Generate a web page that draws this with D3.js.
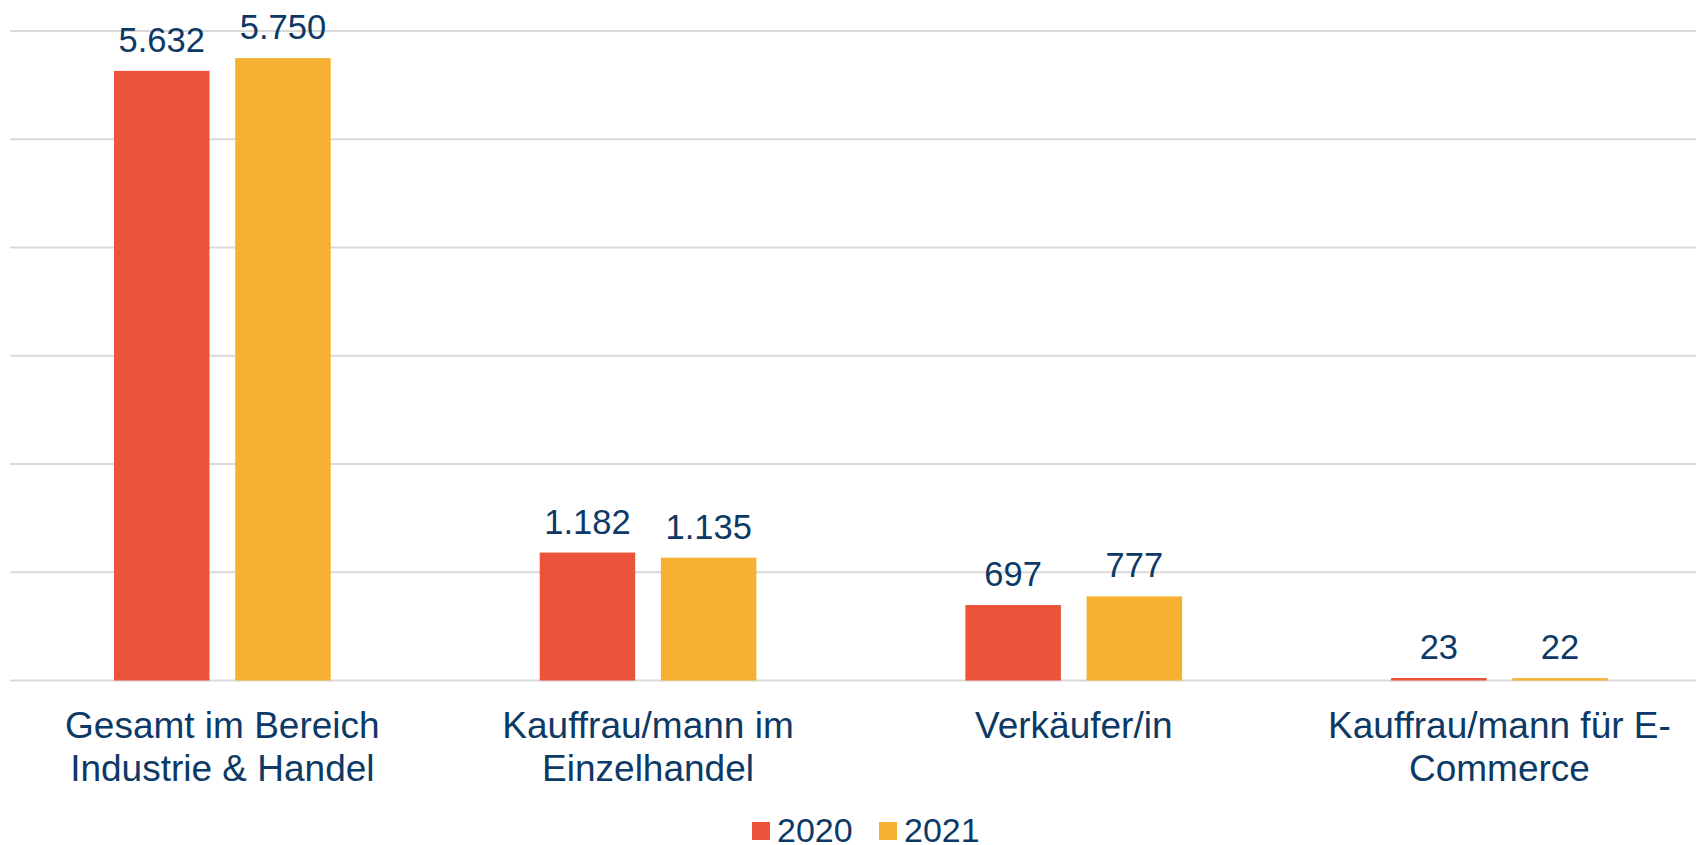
<!DOCTYPE html>
<html>
<head>
<meta charset="utf-8">
<script src="https://cdn.jsdelivr.net/npm/d3@7"></script>
<style>
  html, body { margin: 0; padding: 0; background: #ffffff; }
  svg { display: block; }
  text { font-family: "Liberation Sans", Arial, sans-serif; }
</style>
</head>
<body>
<svg id="chart" width="1696" height="845"></svg>
<script>
// ---- data ----
const categories = [
  "Gesamt im Bereich Industrie & Handel",
  "Kauffrau/mann im Einzelhandel",
  "Verkäufer/in",
  "Kauffrau/mann für E-Commerce"
];
const seriesNames = ["2020", "2021"];
const values2020 = [5632, 1182, 697, 23];
const values2021 = [5750, 1135, 777, 22];
const valueLabels2020 = ["5.632", "1.182", "697", "23"];
const valueLabels2021 = ["5.750", "1.135", "777", "22"];
const gridTicks = [0, 1000, 2000, 3000, 4000, 5000, 6000];

const colors = { "2020": "#EB533A", "2021": "#F7B132" };
const textColor = "#0D3966";

const W = 1696, H = 845;
const svg = d3.select("#chart");

const plotLeft = 9.5, plotRight = 1712.3, plotTop = 31, plotBottom = 680.5;

const x0 = d3.scaleBand().domain(categories).range([plotLeft, plotRight]).paddingInner(0).paddingOuter(0);
const x1 = d3.scaleBand().domain(seriesNames).range([0, x0.bandwidth()]).paddingInner(0.212).paddingOuter(0.862);
const y = d3.scaleLinear().domain([0, 6000]).range([plotBottom, plotTop]);

// gridlines
svg.append("g").selectAll("line").data(gridTicks).join("line")
  .attr("x1", 10).attr("x2", W)
  .attr("y1", d => y(d)).attr("y2", d => y(d))
  .attr("stroke", "#D9D9D9").attr("stroke-width", 2);

const rows = categories.map((c, i) => ({
  cat: c,
  bars: [
    { s: "2020", v: values2020[i], label: valueLabels2020[i] },
    { s: "2021", v: values2021[i], label: valueLabels2021[i] }
  ]
}));

const groups = svg.append("g").selectAll("g").data(rows).join("g")
  .attr("transform", d => `translate(${x0(d.cat)},0)`);

groups.selectAll("rect").data(d => d.bars).join("rect")
  .attr("x", d => x1(d.s))
  .attr("width", x1.bandwidth())
  .attr("y", d => y(d.v))
  .attr("height", d => Math.max(2, y(0) - y(d.v)))
  .attr("fill", d => colors[d.s]);

groups.selectAll("text.val").data(d => d.bars).join("text")
  .attr("class", "val")
  .attr("x", d => x1(d.s) + x1.bandwidth() / 2)
  .attr("y", d => Math.min(y(d.v), y(0) - 2) - 19)
  .attr("text-anchor", "middle")
  .attr("fill", textColor)
  .style("font-size", "34.5px")
  .text(d => d.label);

// category labels with wrapping
const maxW = 390;
const catG = svg.append("g");
categories.forEach(c => {
  const cx = x0(c) + x0.bandwidth() / 2;
  const tokens = c.replace(/-/g, "-\u0001").split(/\s+/).flatMap(t => t.split("\u0001").map((p, k) => ({ p, joinNoSpace: k > 0 })));
  const t = catG.append("text").attr("text-anchor", "middle").attr("fill", textColor).style("font-size", "37px");
  const lines = [];
  let cur = "";
  const meas = catG.append("text").style("font-size", "37px");
  tokens.forEach(tok => {
    if (!tok.p) return;
    const cand = cur === "" ? tok.p : (tok.joinNoSpace ? cur + tok.p : cur + " " + tok.p);
    meas.text(cand);
    if (cur !== "" && meas.node().getComputedTextLength() > maxW) {
      lines.push(cur);
      cur = tok.p;
    } else {
      cur = cand;
    }
  });
  if (cur) lines.push(cur);
  meas.remove();
  lines.forEach((ln, i) => {
    t.append("tspan").attr("x", cx).attr("y", 738 + i * 43).text(ln);
  });
});

// legend
const legend = svg.append("g");
const legendItems = [
  { s: "2020", x: 752 },
  { s: "2021", x: 879 }
];
legendItems.forEach(it => {
  legend.append("rect").attr("x", it.x).attr("y", 822).attr("width", 18).attr("height", 18).attr("fill", colors[it.s]);
  legend.append("text").attr("x", it.x + 25).attr("y", 842).attr("fill", textColor)
    .style("font-size", "34px").text(it.s);
});
</script>
</body>
</html>
